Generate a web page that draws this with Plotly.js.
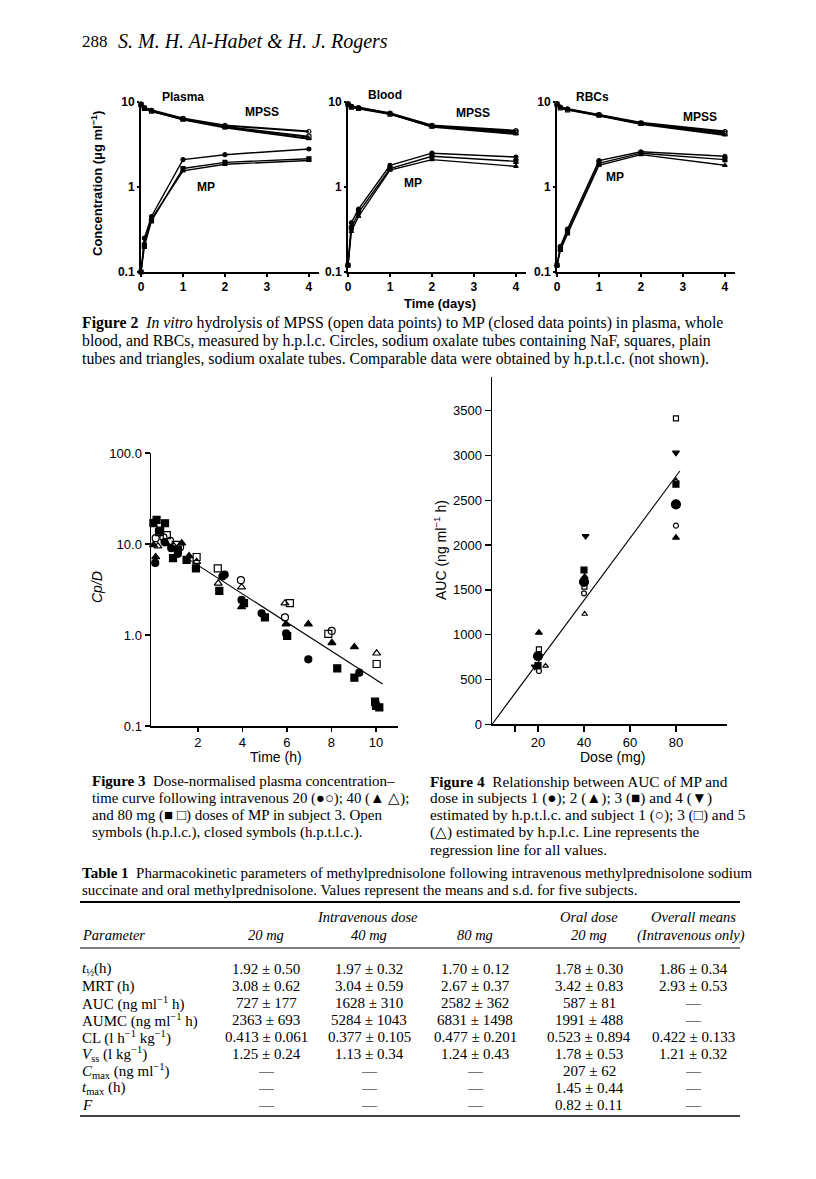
<!DOCTYPE html>
<html><head><meta charset="utf-8">
<script src="https://cdn.plot.ly/plotly-3.0.1.min.js"></script>
<style>html,body{margin:0;padding:0;background:#fff}#chart{width:816px;height:1179px}</style>
</head><body><div id="chart"></div>
<script>
// ---------- Figure 2 data (in vitro hydrolysis, days) ----------
var fig2Times = [0, 0.08, 0.25, 1, 2, 4];
var plasmaMPSS_circ = [9.5, 8.6, 8.0, 6.4, 5.3, 4.5];
var plasmaMPSS_sq   = [9.3, 8.4, 7.8, 6.3, 5.1, 3.9];
var plasmaMPSS_tri  = [9.4, 8.5, 7.9, 6.2, 5.0, 3.7];
var plasmaMP_circ   = [0.1, 0.25, 0.45, 2.1, 2.4, 2.8];
var plasmaMP_sq     = [0.1, 0.2, 0.4, 1.65, 1.95, 2.15];
var plasmaMP_tri    = [0.1, 0.22, 0.42, 1.55, 1.85, 2.05];
var bloodMPSS_circ  = [9.6, 8.9, 8.6, 7.4, 5.3, 4.6];
var bloodMPSS_sq    = [9.4, 8.7, 8.4, 7.2, 5.2, 4.4];
var bloodMPSS_tri   = [9.5, 8.8, 8.5, 7.3, 5.1, 4.2];
var bloodMP_circ    = [0.12, 0.38, 0.55, 1.8, 2.5, 2.25];
var bloodMP_sq      = [0.12, 0.33, 0.5, 1.65, 2.3, 2.0];
var bloodMP_tri     = [0.12, 0.3, 0.45, 1.58, 2.1, 1.75];
var rbcMPSS_circ    = [9.6, 8.7, 8.3, 7.1, 5.7, 4.5];
var rbcMPSS_sq      = [9.4, 8.5, 8.1, 7.0, 5.6, 4.3];
var rbcMPSS_tri     = [9.5, 8.6, 8.2, 6.9, 5.5, 4.1];
var rbcMP_circ      = [0.12, 0.2, 0.32, 2.05, 2.6, 2.3];
var rbcMP_sq        = [0.12, 0.19, 0.3, 1.9, 2.5, 2.1];
var rbcMP_tri       = [0.12, 0.18, 0.28, 1.8, 2.4, 1.8];
var fig2Panels = ['Plasma', 'Blood', 'RBCs'];

// ---------- Figure 3 data (Cp/D vs time, h) ----------
var f3_20c_t = [0.08, 0.5, 0.8, 1.1, 3.1, 3.2, 3.96, 4.86, 5.96, 6.96, 9.25];
var f3_20c_v = [6.2, 10.5, 9.0, 7.8, 4.4, 4.6, 2.43, 1.73, 1.04, 0.54, 0.385];
var f3_20o_t = [0.1, 0.45, 0.75, 1.2, 3.93, 5.91, 8.01];
var f3_20o_v = [11.6, 11.8, 10.8, 9.2, 4.0, 1.56, 1.11];
var f3_40c_t = [0.0, 0.1, 0.6, 1.27, 1.6, 3.96, 5.96, 6.96, 8.02, 9.03];
var f3_40c_v = [9.75, 7.2, 10.0, 10.2, 7.4, 2.04, 1.32, 1.32, 0.82, 0.74];
var f3_40o_t = [0.2, 0.9, 1.94, 2.91, 3.96, 5.91, 10.03];
var f3_40o_v = [9.5, 9.6, 6.4, 3.7, 3.35, 2.24, 0.63];
var f3_80c_t = [0.0, 0.14, 0.3, 0.52, 0.88, 1.1, 1.49, 1.91, 2.96, 4.07, 5.01, 6.01, 8.26, 9.03, 9.96, 10.0, 10.15];
var f3_80c_v = [17.0, 18.4, 14.0, 16.9, 7.0, 8.6, 6.7, 5.4, 3.05, 2.24, 1.56, 0.975, 0.43, 0.34, 0.185, 0.166, 0.16];
var f3_80o_t = [0.25, 0.6, 1.0, 1.94, 2.89, 6.13, 7.86, 10.03];
var f3_80o_v = [13.5, 12.5, 9.8, 7.2, 5.4, 2.24, 1.03, 0.48];
var f3LineT = [1.5, 10.3];
var f3LineV = [7.0, 0.29];

// ---------- Figure 4 data (AUC vs dose) ----------
var f4_s1c_dose = [20, 40, 80],     f4_s1c_auc = [762, 1590, 2455];
var f4_s2c_dose = [20.4, 40.3, 80], f4_s2c_auc = [1022, 1648, 2083];
var f4_s3c_dose = [20, 40, 80],     f4_s3c_auc = [655, 1722, 2680];
var f4_s4c_dose = [18.6, 40.7, 80], f4_s4c_auc = [643, 2101, 3031];
var f4_s1o_dose = [20.4, 40, 80],   f4_s1o_auc = [595, 1462, 2217];
var f4_s3o_dose = [20.4, 40.2, 80], f4_s3o_auc = [837, 1536, 3415];
var f4_s5o_dose = [23.3, 40.3, 80], f4_s5o_auc = [651, 1231, 2720];
var f4LineDose = [0, 81.7];
var f4LineAUC = [0, 2827];

// ---------- Table 1 ----------
var tabParams = ['<i>t</i><sub>½</sub>(h)', 'MRT (h)', 'AUC (ng ml<sup>−1</sup> h)', 'AUMC (ng ml<sup>−1</sup> h)',
  'CL (l h<sup>−1</sup> kg<sup>−1</sup>)', '<i>V</i><sub>ss</sub> (l kg<sup>−1</sup>)',
  '<i>C</i><sub>max</sub> (ng ml<sup>−1</sup>)', '<i>t</i><sub>max</sub> (h)', '<i>F</i>'];
var tabIV20 = ['1.92 ± 0.50', '3.08 ± 0.62', '727 ± 177', '2363 ± 693', '0.413 ± 0.061', '1.25 ± 0.24', '—', '—', '—'];
var tabIV40 = ['1.97 ± 0.32', '3.04 ± 0.59', '1628 ± 310', '5284 ± 1043', '0.377 ± 0.105', '1.13 ± 0.34', '—', '—', '—'];
var tabIV80 = ['1.70 ± 0.12', '2.67 ± 0.37', '2582 ± 362', '6831 ± 1498', '0.477 ± 0.201', '1.24 ± 0.43', '—', '—', '—'];
var tabOral20 = ['1.78 ± 0.30', '3.42 ± 0.83', '587 ± 81', '1991 ± 488', '0.523 ± 0.894', '1.78 ± 0.53', '207 ± 62', '1.45 ± 0.44', '0.82 ± 0.11'];
var tabOverall = ['1.86 ± 0.34', '2.93 ± 0.53', '—', '—', '0.422 ± 0.133', '1.21 ± 0.32', '—', '—', '—'];

// ---------- layout helpers ----------
var W = 816, H = 1179;
var SERIF = 'Liberation Serif, Times New Roman, serif';
var SANS = 'Liberation Sans, Arial, sans-serif';
function fx(p) { return p / W; }
function fy(p) { return 1 - p / H; }
var ann = [];
function T(x, y, text, o) {
  o = o || {};
  ann.push({xref: 'paper', yref: 'paper', x: fx(x), y: fy(y), text: text, showarrow: false,
    xanchor: o.xa || 'left', yanchor: 'middle', textangle: o.rot || 0,
    font: {family: o.fam || SERIF, size: o.size || 15, color: '#000'}});
}

var traces = [];
function add(xa, ya, x, y, sym, size, mode, lw) {
  traces.push({x: x, y: y, xaxis: xa, yaxis: ya, type: 'scatter', mode: mode || 'markers',
    marker: {symbol: sym, size: size, color: '#000', line: {color: '#000', width: 1.2}},
    line: {color: '#000', width: lw || 1.3}, hoverinfo: 'skip', cliponaxis: false});
}

// Figure 2 traces
var f2 = [
  [[plasmaMPSS_circ, plasmaMPSS_sq, plasmaMPSS_tri], [plasmaMP_circ, plasmaMP_sq, plasmaMP_tri]],
  [[bloodMPSS_circ, bloodMPSS_sq, bloodMPSS_tri], [bloodMP_circ, bloodMP_sq, bloodMP_tri]],
  [[rbcMPSS_circ, rbcMPSS_sq, rbcMPSS_tri], [rbcMP_circ, rbcMP_sq, rbcMP_tri]]
];
var syms = ['circle', 'square', 'triangle-up'];
for (var p = 0; p < 3; p++) {
  var xa = p === 0 ? 'x' : 'x' + (p + 1), ya = p === 0 ? 'y' : 'y' + (p + 1);
  for (var s = 0; s < 3; s++) {
    add(xa, ya, fig2Times, f2[p][0][s], syms[s] + '-open', 4, 'lines+markers', 2);
    add(xa, ya, fig2Times, f2[p][1][s], syms[s], 4, 'lines+markers', 1.4);
  }
}

// Figure 3 traces
add('x4', 'y4', f3LineT, f3LineV, 'circle', 1, 'lines', 1.1);
add('x4', 'y4', f3_20c_t, f3_20c_v, 'circle', 7);
add('x4', 'y4', f3_20o_t, f3_20o_v, 'circle-open', 7);
add('x4', 'y4', f3_40c_t, f3_40c_v, 'triangle-up', 7);
add('x4', 'y4', f3_40o_t, f3_40o_v, 'triangle-up-open', 7);
add('x4', 'y4', f3_80c_t, f3_80c_v, 'square', 7);
add('x4', 'y4', f3_80o_t, f3_80o_v, 'square-open', 7);

// Figure 4 traces
add('x5', 'y5', f4LineDose, f4LineAUC, 'circle', 1, 'lines', 1.1);
add('x5', 'y5', f4_s1c_dose, f4_s1c_auc, 'circle', 9);
add('x5', 'y5', f4_s2c_dose, f4_s2c_auc, 'triangle-up', 6);
add('x5', 'y5', f4_s3c_dose, f4_s3c_auc, 'square', 6);
add('x5', 'y5', f4_s4c_dose, f4_s4c_auc, 'triangle-down', 6);
add('x5', 'y5', f4_s1o_dose, f4_s1o_auc, 'circle-open', 5);
add('x5', 'y5', f4_s3o_dose, f4_s3o_auc, 'square-open', 5);
add('x5', 'y5', f4_s5o_dose, f4_s5o_auc, 'triangle-up-open', 5);

function axis(dom, extra) {
  var a = {domain: dom, showline: true, linecolor: '#000', linewidth: 1.5, showgrid: false, zeroline: false,
    ticks: 'outside', ticklen: 4, tickwidth: 1.2, tickcolor: '#000', fixedrange: true,
    tickfont: {family: SANS, size: 13, color: '#000'}};
  for (var k in extra) a[k] = extra[k];
  return a;
}
var f2tick = {family: SANS, size: 12, color: '#000', weight: 'bold'};
var f2x = {range: [0, 4.24], tickvals: [0, 1, 2, 3, 4], ticklen: 3, tickfont: f2tick, linewidth: 2};
var f2y = {type: 'log', range: [-1, 1], tickvals: [0.1, 1, 10], ticktext: ['0.1', '1', '10'], ticklen: 2, tickfont: f2tick, linewidth: 2};
function cp(o, k, v) { var r = {}; for (var i in o) r[i] = o[i]; r[k] = v; return r; }

var layout = {
  width: W, height: H, margin: {l: 0, r: 0, t: 0, b: 0}, paper_bgcolor: '#fff', plot_bgcolor: 'rgba(0,0,0,0)',
  showlegend: false, annotations: ann,
  xaxis: axis([fx(141), fx(319)], cp(f2x, 'anchor', 'y')),
  yaxis: axis([fy(272), fy(102)], cp(f2y, 'anchor', 'x')),
  xaxis2: axis([fx(348), fx(526)], cp(f2x, 'anchor', 'y2')),
  yaxis2: axis([fy(272), fy(102)], cp(f2y, 'anchor', 'x2')),
  xaxis3: axis([fx(557), fx(735)], cp(f2x, 'anchor', 'y3')),
  yaxis3: axis([fy(272), fy(102)], cp(f2y, 'anchor', 'x3')),
  xaxis4: axis([fx(151), fx(398)], {anchor: 'y4', range: [-0.11, 10.99], tickvals: [2, 4, 6, 8, 10]}),
  yaxis4: axis([fy(726), fy(453)], {anchor: 'x4', type: 'log', range: [-1, 2], tickvals: [0.1, 1, 10, 100],
    ticktext: ['0.1', '1.0', '10.0', '100.0'], ticklen: 5}),
  xaxis5: axis([fx(492), fx(727)], {anchor: 'y5', range: [0, 102.2], tickvals: [20, 40, 60, 80], ticklen: 6,
    minor: {tickvals: [10], ticks: 'outside', ticklen: 6, tickwidth: 1.2, tickcolor: '#000', showgrid: false}}),
  yaxis5: axis([fy(724.3), fy(377)], {anchor: 'x5', range: [0, 3876], tickvals: [0, 500, 1000, 1500, 2000, 2500, 3000, 3500], ticklen: 6}),
  shapes: [
    {type: 'line', xref: 'paper', yref: 'paper', x0: fx(80), x1: fx(740), y0: fy(902), y1: fy(902), line: {color: '#000', width: 2}},
    {type: 'line', xref: 'paper', yref: 'paper', x0: fx(80), x1: fx(740), y0: fy(948), y1: fy(948), line: {color: '#000', width: 1}},
    {type: 'line', xref: 'paper', yref: 'paper', x0: fx(80), x1: fx(740), y0: fy(1116), y1: fy(1116), line: {color: '#000', width: 1.5}}
  ]
};

// page header
T(80, 41, '288', {size: 17});
T(116, 41, '<i>S. M. H. Al-Habet &amp; H. J. Rogers</i>', {size: 20});

// Figure 2 labels
T(97, 184, '<b>Concentration (μg ml<sup>−1</sup>)</b>', {xa: 'center', rot: -90, fam: SANS, size: 13});
T(440, 303, '<b>Time (days)</b>', {xa: 'center', fam: SANS, size: 13});
var f2lab = [[183, 97, fig2Panels[0]], [262, 112, 'MPSS'], [206, 187, 'MP'],
  [385, 95, fig2Panels[1]], [473, 113, 'MPSS'], [413, 183, 'MP'],
  [592, 97, fig2Panels[2]], [700, 117, 'MPSS'], [615, 177, 'MP']];
f2lab.forEach(function (l) { T(l[0], l[1], '<b>' + l[2] + '</b>', {xa: 'center', fam: SANS, size: 12}); });

T(80, 323, '<b>Figure 2</b>  <i>In vitro</i> hydrolysis of MPSS (open data points) to MP (closed data points) in plasma, whole', {size: 15.8});
T(80, 341, 'blood, and RBCs, measured by h.p.l.c. Circles, sodium oxalate tubes containing NaF, squares, plain', {size: 15.8});
T(80, 359, 'tubes and triangles, sodium oxalate tubes. Comparable data were obtained by h.p.t.l.c. (not shown).', {size: 15.8});

// Figure 3 labels
T(97, 587, '<i>Cp/D</i>', {xa: 'center', rot: -90, fam: SANS, size: 14});
T(276, 757, 'Time (h)', {xa: 'center', fam: SANS, size: 14});
T(90, 781, '<b>Figure 3</b>  Dose-normalised plasma concentration–', {size: 15});
T(90, 798, 'time curve following intravenous 20 (●○); 40 (▲ △);', {size: 14.8});
T(90, 815, 'and 80 mg (■ □) doses of MP in subject 3. Open', {size: 15});
T(90, 832, 'symbols (h.p.l.c.), closed symbols (h.p.t.l.c.).', {size: 15});

// Figure 4 labels
T(440, 550, 'AUC (ng ml<sup>−1</sup> h)', {xa: 'center', rot: -90, fam: SANS, size: 14});
T(612, 757, 'Dose (mg)', {xa: 'center', fam: SANS, size: 14});
T(428, 781, '<b>Figure 4</b>  Relationship between AUC of MP and', {size: 15.3});
T(428, 798, 'dose in subjects 1 (●); 2 (▲); 3 (■) and 4 (▼)', {size: 15.3});
T(428, 815, 'estimated by h.p.t.l.c. and subject 1 (○); 3 (□) and 5', {size: 15.3});
T(428, 832, '(△) estimated by h.p.l.c. Line represents the', {size: 15.3});
T(428, 849, 'regression line for all values.', {size: 15.3});

// Table 1
T(80, 873, '<b>Table 1</b>  Pharmacokinetic parameters of methylprednisolone following intravenous methylprednisolone sodium');
T(80, 890, 'succinate and oral methylprednisolone. Values represent the means and s.d. for five subjects.');
T(367, 917, '<i>Intravenous dose</i>', {xa: 'center', size: 14.5});
T(589, 917, '<i>Oral dose</i>', {xa: 'center', size: 14.5});
T(693, 917, '<i>Overall means</i>', {xa: 'center', size: 14.5});
T(80, 935, '<i>Parameter</i>', {size: 14.5});
T(266, 935, '<i>20 mg</i>', {xa: 'center', size: 14.5});
T(369, 935, '<i>40 mg</i>', {xa: 'center', size: 14.5});
T(475, 935, '<i>80 mg</i>', {xa: 'center', size: 14.5});
T(589, 935, '<i>20 mg</i>', {xa: 'center', size: 14.5});
T(691, 935, '<i>(Intravenous only)</i>', {xa: 'center', size: 14.5});
var colX = [266, 369, 475, 589, 693];
var cols = [tabIV20, tabIV40, tabIV80, tabOral20, tabOverall];
for (var r = 0; r < tabParams.length; r++) {
  var yy = 969 + r * 17;
  T(80, yy, tabParams[r], {size: 15});
  for (var c = 0; c < 5; c++) T(colX[c], yy, cols[c][r], {xa: 'center', size: 15});
}

Plotly.newPlot('chart', traces, layout, {staticPlot: true, displayModeBar: false});
</script></body></html>
